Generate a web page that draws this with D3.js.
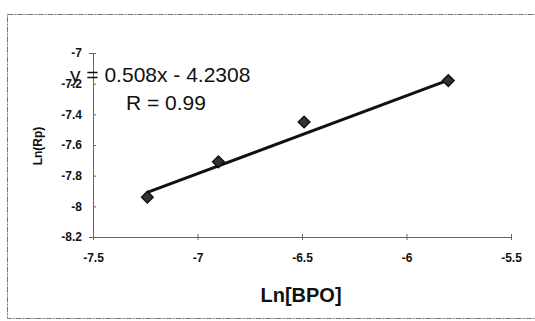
<!DOCTYPE html>
<html>
<head>
<meta charset="utf-8">
<script src="https://cdn.jsdelivr.net/npm/d3@7"></script>
<style>
  body { margin: 0; background: #fff; }
  text { font-family: Arial, "Liberation Sans", sans-serif; }
</style>
</head>
<body>
<div id="chart"></div>
<script>
// data
const lnBPO = [-7.24, -6.90, -6.49, -5.80];
const lnRp = [-7.94, -7.71, -7.45, -7.18];
const xTicks = [-7.5, -7, -6.5, -6, -5.5];
const yTicks = [-7, -7.2, -7.4, -7.6, -7.8, -8, -8.2];
const slope = 0.508, intercept = -4.2308;

const width = 535, height = 321;
const margin = {top: 53, right: 24, bottom: 84, left: 93};
const w = width - margin.left - margin.right,
      h = height - margin.top - margin.bottom;

const svg = d3.select("#chart").append("svg")
    .attr("width", width)
    .attr("height", height);

// outer chart border (dotted, like the scan)
svg.append("rect")
  .attr("x", 7.5).attr("y", 14.5)
  .attr("width", width).attr("height", 304)
  .attr("fill", "none")
  .attr("stroke", "#777")
  .attr("stroke-width", 1)
  .attr("stroke-dasharray", "6,1,2,1");

const g = svg.append("g")
  .attr("transform", `translate(${margin.left},${margin.top})`);

const x = d3.scaleLinear().domain([-7.5, -5.5]).range([0, w]);
const y = d3.scaleLinear().domain([-8.2, -7]).range([h, 0]);

// plain hyphen minus, as in the original
const fmt = d => String(d);

// X axis
const xAxis = g.append("g")
  .attr("transform", `translate(0,${h})`)
  .call(d3.axisBottom(x).tickValues(xTicks).tickSize(3).tickPadding(13).tickFormat(fmt));
xAxis.select(".domain").attr("stroke", "#666");
xAxis.selectAll(".tick line").attr("stroke", "#666").attr("y1", -3);
xAxis.selectAll("text").attr("font-size", 12).attr("font-weight", "bold").attr("fill", "#111");

// Y axis
const yAxis = g.append("g")
  .call(d3.axisLeft(y).tickValues(yTicks).tickSize(4).tickPadding(7).tickFormat(fmt));
yAxis.select(".domain").attr("stroke", "#666");
yAxis.selectAll(".tick line").attr("stroke", "#666").attr("x2", 3);
yAxis.selectAll("text").attr("font-size", 12).attr("font-weight", "bold").attr("fill", "#111");

// trendline
const x0 = d3.min(lnBPO), x1 = d3.max(lnBPO);
g.append("line")
  .attr("x1", x(x0)).attr("y1", y(slope * x0 + intercept))
  .attr("x2", x(x1)).attr("y2", y(slope * x1 + intercept))
  .attr("stroke", "#111")
  .attr("stroke-width", 3);

// markers
g.selectAll(".pt")
  .data(lnBPO.map((d, i) => [d, lnRp[i]]))
  .join("path")
  .attr("class", "pt")
  .attr("transform", d => `translate(${x(d[0])},${y(d[1])})`)
  .attr("d", d3.symbol().type(d3.symbolDiamond2).size(85))
  .attr("fill", "#333")
  .attr("stroke", "#111")
  .attr("stroke-width", 1.5);

// equation text
g.append("text")
  .attr("x", 70 - margin.left).attr("y", 82 - margin.top)
  .attr("font-size", 21)
  .attr("fill", "#111")
  .text("y = 0.508x - 4.2308");
g.append("text")
  .attr("x", 126 - margin.left).attr("y", 110 - margin.top)
  .attr("font-size", 21)
  .attr("fill", "#111")
  .text("R = 0.99");

// axis labels
svg.append("text")
  .attr("transform", "translate(42,146) rotate(-90)")
  .attr("text-anchor", "middle")
  .attr("font-size", 12)
  .attr("font-weight", "bold")
  .attr("fill", "#111")
  .text("Ln(Rp)");

svg.append("text")
  .attr("x", 301).attr("y", 302)
  .attr("text-anchor", "middle")
  .attr("font-size", 20)
  .attr("font-weight", "bold")
  .attr("fill", "#111")
  .text("Ln[BPO]");
</script>
</body>
</html>
